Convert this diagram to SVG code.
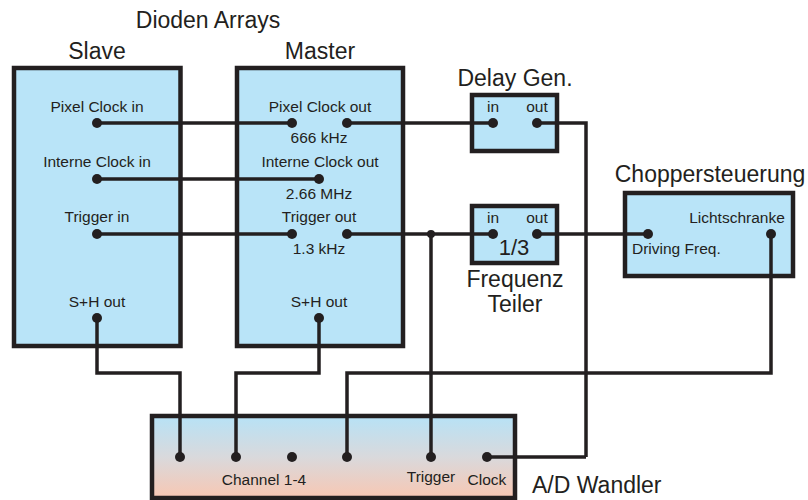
<svg xmlns="http://www.w3.org/2000/svg" width="808" height="500" viewBox="0 0 808 500">
<defs>
<linearGradient id="adcGrad" x1="0" y1="0" x2="0" y2="1">
<stop offset="0" stop-color="#b7e2f6"/>
<stop offset="0.5" stop-color="#d9d9dc"/>
<stop offset="1" stop-color="#f8c7b3"/>
</linearGradient>
<style>
.box{fill:#b9e4f8;stroke:#231f20;stroke-width:4.5}
.adc{fill:url(#adcGrad);stroke:#231f20;stroke-width:4.5}
.wire{fill:none;stroke:#231f20;stroke-width:3.5;stroke-linejoin:miter}
.dot{fill:#231f20}
text{font-family:"Liberation Sans",Arial,sans-serif;fill:#231f20}
.title{font-size:23px;text-anchor:middle}
.lbl{font-size:15.5px;text-anchor:middle}
</style>
</defs>
<rect width="808" height="500" fill="#ffffff"/>
<text class="title" x="208" y="28">Dioden Arrays</text>

<g id="slave">
<text class="title" x="97" y="59">Slave</text>
<rect class="box" x="14" y="68" width="166.5" height="278"/>
<text class="lbl" x="97" y="112">Pixel Clock in</text>
<text class="lbl" x="97" y="167">Interne Clock in</text>
<text class="lbl" x="97" y="222">Trigger in</text>
<text class="lbl" x="97" y="307">S+H out</text>
</g>

<g id="master">
<text class="title" x="320" y="59">Master</text>
<rect class="box" x="237" y="68" width="166" height="278"/>
<text class="lbl" x="320" y="112">Pixel Clock out</text>
<text class="lbl" x="319" y="143">666 kHz</text>
<text class="lbl" x="320" y="167">Interne Clock out</text>
<text class="lbl" x="319" y="199">2.66 MHz</text>
<text class="lbl" x="319" y="222">Trigger out</text>
<text class="lbl" x="319" y="254">1.3 kHz</text>
<text class="lbl" x="319" y="307">S+H out</text>
</g>

<g id="delay">
<text class="title" x="515" y="86">Delay Gen.</text>
<rect class="box" x="472" y="95" width="85" height="56"/>
<text class="lbl" x="493" y="112">in</text>
<text class="lbl" x="537" y="112">out</text>
</g>

<g id="teiler">
<rect class="box" x="472" y="206" width="85" height="57"/>
<text class="lbl" x="493" y="223">in</text>
<text class="lbl" x="537" y="223">out</text>
<text x="514" y="255" style="font-size:22px;text-anchor:middle">1/3</text>
<text class="title" x="515" y="287">Frequenz</text>
<text class="title" x="515" y="312">Teiler</text>
</g>

<g id="chopper">
<text class="title" x="710" y="182">Choppersteuerung</text>
<rect class="box" x="625" y="193" width="168" height="83"/>
<text class="lbl" x="737" y="223">Lichtschranke</text>
<text class="lbl" x="632" y="254" style="text-anchor:start">Driving Freq.</text>
</g>

<g id="adc">
<rect class="adc" x="152" y="416" width="363" height="82"/>
<text class="lbl" x="264" y="485">Channel 1-4</text>
<text class="lbl" x="431" y="482">Trigger</text>
<text class="lbl" x="487" y="485">Clock</text>
<text x="532" y="493" style="font-size:23px">A/D Wandler</text>
</g>

<g id="connectors">
<path class="wire" d="M97,123 H292"/>
<path class="wire" d="M347,123 H493"/>
<path class="wire" d="M97,179 H319"/>
<path class="wire" d="M97,234 H292"/>
<path class="wire" d="M347,234 H493"/>
<path class="wire" d="M537,234 H648"/>
<path class="wire" d="M431,234 V457"/>
<path class="wire" d="M537,123 H586 V373 M586,457 H487"/>
<path class="wire" d="M586,373 V457"/>
<path class="wire" d="M97,318 V373 H180 V457"/>
<path class="wire" d="M319,318 V373 H236 V457"/>
<path class="wire" d="M771,234 V373 H347 V457"/>
</g>

<g id="dots">
<circle class="dot" cx="97" cy="123" r="5"/>
<circle class="dot" cx="97" cy="179" r="5"/>
<circle class="dot" cx="97" cy="234" r="5"/>
<circle class="dot" cx="97" cy="318" r="5"/>
<circle class="dot" cx="292" cy="123" r="5"/>
<circle class="dot" cx="347" cy="123" r="5"/>
<circle class="dot" cx="319" cy="179" r="5"/>
<circle class="dot" cx="292" cy="234" r="5"/>
<circle class="dot" cx="347" cy="234" r="5"/>
<circle class="dot" cx="319" cy="318" r="5"/>
<circle class="dot" cx="493" cy="123" r="5"/>
<circle class="dot" cx="537" cy="123" r="5"/>
<circle class="dot" cx="493" cy="234" r="5"/>
<circle class="dot" cx="537" cy="234" r="5"/>
<circle class="dot" cx="431" cy="234" r="4"/>
<circle class="dot" cx="648" cy="234" r="5"/>
<circle class="dot" cx="771" cy="234" r="5"/>
<circle class="dot" cx="180" cy="457" r="5"/>
<circle class="dot" cx="236" cy="457" r="5"/>
<circle class="dot" cx="292" cy="457" r="5"/>
<circle class="dot" cx="347" cy="457" r="5"/>
<circle class="dot" cx="431" cy="457" r="5"/>
<circle class="dot" cx="487" cy="457" r="5"/>
</g>
</svg>
